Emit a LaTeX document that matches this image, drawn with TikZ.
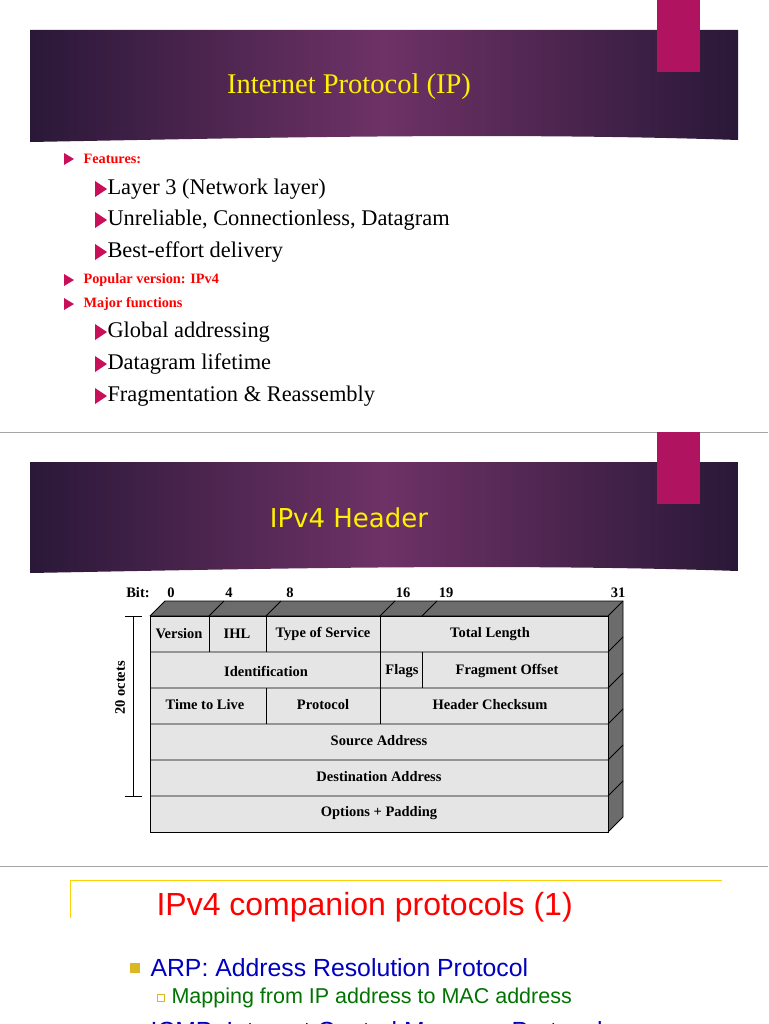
\documentclass[tikz,border=0pt]{standalone}
\usepackage{fontspec}
\setmainfont{Liberation Serif}
\newfontfamily\sansf{Liberation Sans}
\newfontfamily\verd{DejaVu Sans}
\definecolor{edgep}{HTML}{2A1838}
\definecolor{midp}{HTML}{6E3266}
\definecolor{tabc}{HTML}{B0135F}
\definecolor{tric}{HTML}{C8105A}
\begin{document}
\begin{tikzpicture}[x=1pt,y=-1pt,
  tri/.style={fill=tric, draw=none},
  cell/.style={font=\bfseries\fontsize{14.5}{16}\selectfont},
  sub/.style={anchor=west,font=\fontsize{22.4}{26}\selectfont},
  red1/.style={anchor=west,text=red,font=\bfseries\fontsize{14.3}{16}\selectfont}]
\useasboundingbox (0,0) rectangle (768,1024);
\fill[white] (0,0) rectangle (768,1024);
% banner 1
\shade[left color=edgep, right color=edgep, middle color=midp]
  (30,30) -- (738,30) -- (738,140) .. controls (500,132) and (250,138) .. (30,142) -- cycle;
\fill[tabc] (657,0) rectangle (700,72);
\node (t1) at (349,87) {\color{yellow}\fontsize{28.5}{32}\selectfont Internet Protocol (IP)};
% bullets
\foreach \y in {159,280,304}{\fill[tri] (64,\y-6) -- (74,\y) -- (64,\y+6) -- cycle;}
\foreach \y in {189,220,252,332,364,396}{\fill[tri] (95,\y-8) -- (107,\y) -- (95,\y+8) -- cycle;}
\node[red1] (f) at (80,159) {Features:};
\node[red1] (p) at (80,280) {Popular version: IPv4};
\node[red1] (m) at (80,304) {Major functions};
\node[sub] (s1) at (104,189) {Layer 3 (Network layer)};
\node[sub] (s2) at (104,220) {Unreliable, Connectionless, Datagram};
\node[sub] (s3) at (104,252) {Best-effort delivery};
\node[sub] (s4) at (104,332) {Global addressing};
\node[sub] (s5) at (104,364) {Datagram lifetime};
\node[sub] (s6) at (104,396) {Fragmentation \& Reassembly};
\draw[gray!70] (0,432) -- (768,432);
% banner 2
\shade[left color=edgep, right color=edgep, middle color=midp]
  (30,462) -- (738,462) -- (738,571) .. controls (500,563) and (250,569) .. (30,573) -- cycle;
\fill[tabc] (657,432) rectangle (700,504);
\node (t2) at (349,518) {\color{yellow}\verd\fontsize{26}{30}\selectfont IPv4 Header};
% table
\fill[gray!85!black] (150,616) -- (165,601) -- (623,601) -- (608,616) -- cycle;
\fill[gray!85!black] (608,616) -- (623,601) -- (623,817) -- (608,832) -- cycle;
\fill[gray!20] (150,616) rectangle (608,832);
\draw[thick] (150,616) -- (165,601) -- (623,601) -- (623,817) -- (608,832);
\foreach \x in {209,266,380,422} \draw[thick] (\x,616) -- (\x+15,601);
\foreach \y in {616,652,688,724,760,796} \draw[thick] (150,\y) -- (608,\y) -- (623,\y-15);
\draw[thick] (150,616) rectangle (608,832);
\draw[thick] (209,616) -- (209,652) (266,616) -- (266,652) (380,616) -- (380,724) (422,652) -- (422,688) (266,688) -- (266,724);
\node[cell] (c1) at (179,634) {Version};
\node[cell] (c2) at (237,634) {IHL};
\node[cell] (c3) at (323,634) {Type of Service};
\node[cell] (c4) at (490,634) {Total Length};
\node[cell] (c5) at (266,671) {Identification};
\node[cell] (c6) at (402,671) {Flags};
\node[cell] (c7) at (507,671) {Fragment Offset};
\node[cell] (c8) at (205,705) {Time to Live};
\node[cell] (c9) at (323,705) {Protocol};
\node[cell] (c10) at (490,705) {Header Checksum};
\node[cell] (c11) at (379,741) {Source Address};
\node[cell] (c12) at (379,777) {Destination Address};
\node[cell] (c13) at (379,813) {Options + Padding};
\node[cell] (bit) at (138,593) {Bit:};
\foreach \x/\t in {171/0,229/4,290/8,403/16,446/19,618/31}\node[cell] at (\x,593) {\t};
\draw[thick] (133,616) -- (133,796) (125,616) -- (142,616) (125,796) -- (142,796);
\node[cell,rotate=90] (oct) at (120,688) {20 octets};
\draw[gray!70] (0,866) -- (768,866);
% slide 3
\draw[yellow!70!orange] (70,918) -- (70,880) -- (722,880);
\node[anchor=west,text=red] (t3) at (153,907) {\sansf\fontsize{32}{36}\selectfont IPv4 companion protocols (1)};
\fill[yellow!65!orange!85!black] (130,963) rectangle (140,973);
\node[anchor=west,text=blue!75!black] (a) at (147,968) {\sansf\fontsize{24.8}{28}\selectfont ARP: Address Resolution Protocol};
\draw[yellow!65!orange!85!black] (157,994) rectangle (164,1001);
\node[anchor=west,text=green!45!black] (b) at (168,998) {\sansf\fontsize{21.5}{24}\selectfont Mapping from IP address to MAC address};
\fill[yellow!65!orange!85!black] (130,1025) rectangle (140,1035);
\node[anchor=west,text=blue!75!black] (c) at (147,1033) {\sansf\fontsize{24.8}{28}\selectfont ICMP: Internet Control Message Protocol};
\end{tikzpicture}
\end{document}
